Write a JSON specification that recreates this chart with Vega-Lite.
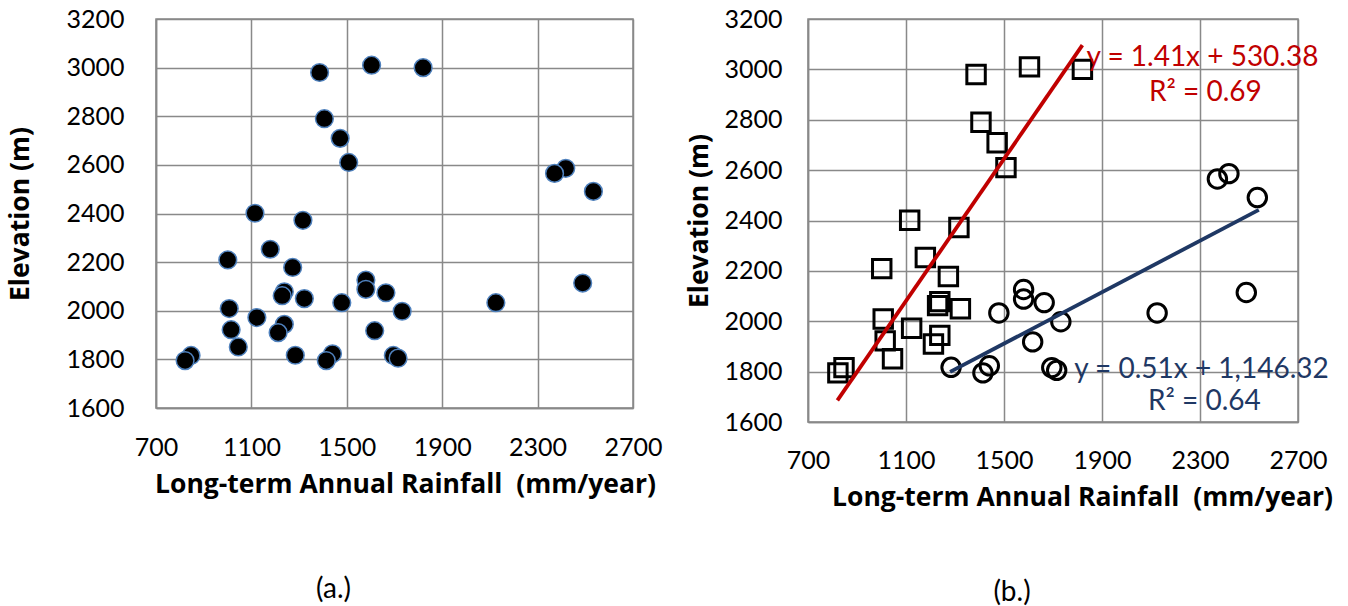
{
  "$schema": "https://vega.github.io/schema/vega-lite/v6.json",
  "padding": {"left": 7, "top": 6, "right": 0, "bottom": 0},
  "background": "white",
  "spacing": 23,
  "datasets": {
    "pts": [
      {"rain": 1386, "elev": 2980, "grp": "A"},
      {"rain": 1604, "elev": 3010, "grp": "A"},
      {"rain": 1820, "elev": 3000, "grp": "A"},
      {"rain": 1406, "elev": 2790, "grp": "A"},
      {"rain": 1472, "elev": 2709, "grp": "A"},
      {"rain": 1508, "elev": 2610, "grp": "A"},
      {"rain": 1115, "elev": 2401, "grp": "A"},
      {"rain": 1316, "elev": 2372, "grp": "A"},
      {"rain": 1179, "elev": 2253, "grp": "A"},
      {"rain": 1001, "elev": 2209, "grp": "A"},
      {"rain": 1273, "elev": 2178, "grp": "A"},
      {"rain": 1238, "elev": 2078, "grp": "A"},
      {"rain": 1229, "elev": 2062, "grp": "A"},
      {"rain": 1322, "elev": 2050, "grp": "A"},
      {"rain": 1007, "elev": 2009, "grp": "A"},
      {"rain": 1123, "elev": 1972, "grp": "A"},
      {"rain": 1238, "elev": 1944, "grp": "A"},
      {"rain": 1212, "elev": 1910, "grp": "A"},
      {"rain": 1015, "elev": 1922, "grp": "A"},
      {"rain": 1045, "elev": 1851, "grp": "A"},
      {"rain": 847, "elev": 1816, "grp": "A"},
      {"rain": 822, "elev": 1795, "grp": "A"},
      {"rain": 2418, "elev": 2586, "grp": "B"},
      {"rain": 2371, "elev": 2565, "grp": "B"},
      {"rain": 2534, "elev": 2491, "grp": "B"},
      {"rain": 2489, "elev": 2114, "grp": "B"},
      {"rain": 2125, "elev": 2033, "grp": "B"},
      {"rain": 1580, "elev": 2126, "grp": "B"},
      {"rain": 1580, "elev": 2088, "grp": "B"},
      {"rain": 1664, "elev": 2074, "grp": "B"},
      {"rain": 1479, "elev": 2033, "grp": "B"},
      {"rain": 1732, "elev": 1998, "grp": "B"},
      {"rain": 1617, "elev": 1918, "grp": "B"},
      {"rain": 1284, "elev": 1817, "grp": "B"},
      {"rain": 1440, "elev": 1823, "grp": "B"},
      {"rain": 1414, "elev": 1795, "grp": "B"},
      {"rain": 1695, "elev": 1816, "grp": "B"},
      {"rain": 1715, "elev": 1805, "grp": "B"}
    ],
    "trend": [
      {"line": "A", "rain": 820, "elev": 1686},
      {"line": "A", "rain": 1820, "elev": 3096},
      {"line": "B", "rain": 1280, "elev": 1799},
      {"line": "B", "rain": 2540, "elev": 2442}
    ],
    "eq": [
      {"line": "A", "label": "y = 1.41x + 530.38", "rain": 2310, "elev": 3044},
      {"line": "A", "label": "R² = 0.69", "rain": 2322, "elev": 2905},
      {"line": "B", "label": "y = 0.51x + 1,146.32", "rain": 2306, "elev": 1806},
      {"line": "B", "label": "R² = 0.64", "rain": 2318, "elev": 1678}
    ]
  },
  "hconcat": [
    {
      "width": 477,
      "height": 389,
      "title": {"text": "(a.)", "orient": "bottom", "anchor": "middle", "frame": "group", "dx": -61, "offset": 78, "fontSize": 28, "fontWeight": "normal", "font": "Lato", "color": "black"},
      "data": {"name": "pts"},
      "mark": {"type": "point", "shape": "circle", "filled": true, "fill": "black", "stroke": "#4f81bd", "strokeWidth": 1.5, "size": 314, "opacity": 1},
      "encoding": {
        "x": {"field": "rain", "type": "quantitative", "scale": {"domain": [700, 2700], "nice": false, "zero": false},
              "axis": {"values": [700, 1100, 1500, 1900, 2300, 2700], "format": "d", "title": "Long-term Annual Rainfall \u00a0(mm/year)", "titleX": 249, "titleAlign": "center", "labelPadding": 27, "titlePadding": 11}},
        "y": {"field": "elev", "type": "quantitative", "scale": {"domain": [1600, 3200], "nice": false, "zero": false},
              "axis": {"values": [1600, 1800, 2000, 2200, 2400, 2600, 2800, 3000, 3200], "format": "d", "title": "Elevation (m)", "labelPadding": 32, "titlePadding": 31}}
      }
    },
    {
      "width": 490,
      "height": 403,
      "title": {"text": "(b.)", "orient": "bottom", "anchor": "middle", "frame": "group", "dx": -41, "offset": 68, "fontSize": 28, "fontWeight": "normal", "font": "Lato", "color": "black"},
      "encoding": {
        "x": {"field": "rain", "type": "quantitative", "scale": {"domain": [700, 2700], "nice": false, "zero": false},
              "axis": {"values": [700, 1100, 1500, 1900, 2300, 2700], "format": "d", "title": "Long-term Annual Rainfall \u00a0(mm/year)", "titleX": 274, "titleAlign": "center", "labelPadding": 26, "titlePadding": 11}},
        "y": {"field": "elev", "type": "quantitative", "scale": {"domain": [1600, 3200], "nice": false, "zero": false},
              "axis": {"values": [1600, 1800, 2000, 2200, 2400, 2600, 2800, 3000, 3200], "format": "d", "title": "Elevation (m)", "labelPadding": 26, "titlePadding": 10}}
      },
      "layer": [
        {
          "data": {"name": "pts"},
          "mark": {"type": "point", "filled": false, "stroke": "black", "strokeWidth": 3, "size": 340, "opacity": 1},
          "encoding": {
            "shape": {"field": "grp", "type": "nominal", "scale": {"domain": ["A", "B"], "range": ["square", "circle"]}, "legend": null}
          }
        },
        {
          "data": {"name": "trend"},
          "mark": {"type": "line", "strokeWidth": 3.8},
          "encoding": {
            "detail": {"field": "line"},
            "color": {"field": "line", "type": "nominal", "scale": {"domain": ["A", "B"], "range": ["#c00000", "#1f3864"]}, "legend": null}
          }
        },
        {
          "data": {"name": "eq"},
          "mark": {"type": "text", "font": "Lato", "fontSize": 28, "align": "center", "baseline": "middle"},
          "encoding": {
            "text": {"field": "label"},
            "color": {"field": "line", "type": "nominal", "scale": {"domain": ["A", "B"], "range": ["#c00000", "#1f3864"]}, "legend": null}
          }
        }
      ]
    }
  ],
  "resolve": {"scale": {"color": "shared", "shape": "independent"}},
  "config": {
    "view": {"stroke": "#898989", "strokeWidth": 1.5},
    "axis": {
      "grid": true, "gridColor": "#898989", "gridWidth": 1.5, "gridOpacity": 1,
      "domain": true, "domainColor": "#898989", "domainWidth": 1.5,
      "ticks": false, "tickSize": 0,
      "labelFont": "Lato", "labelFontSize": 25, "labelColor": "black",
      "titleFont": "Open Sans", "titleFontSize": 26.5, "titleFontWeight": "bold", "titleColor": "black"
    },
    "axisX": {"labelFlush": false},
    "axisY": {"labelBaseline": "middle", "titleFontSize": 26.5}
  }
}
